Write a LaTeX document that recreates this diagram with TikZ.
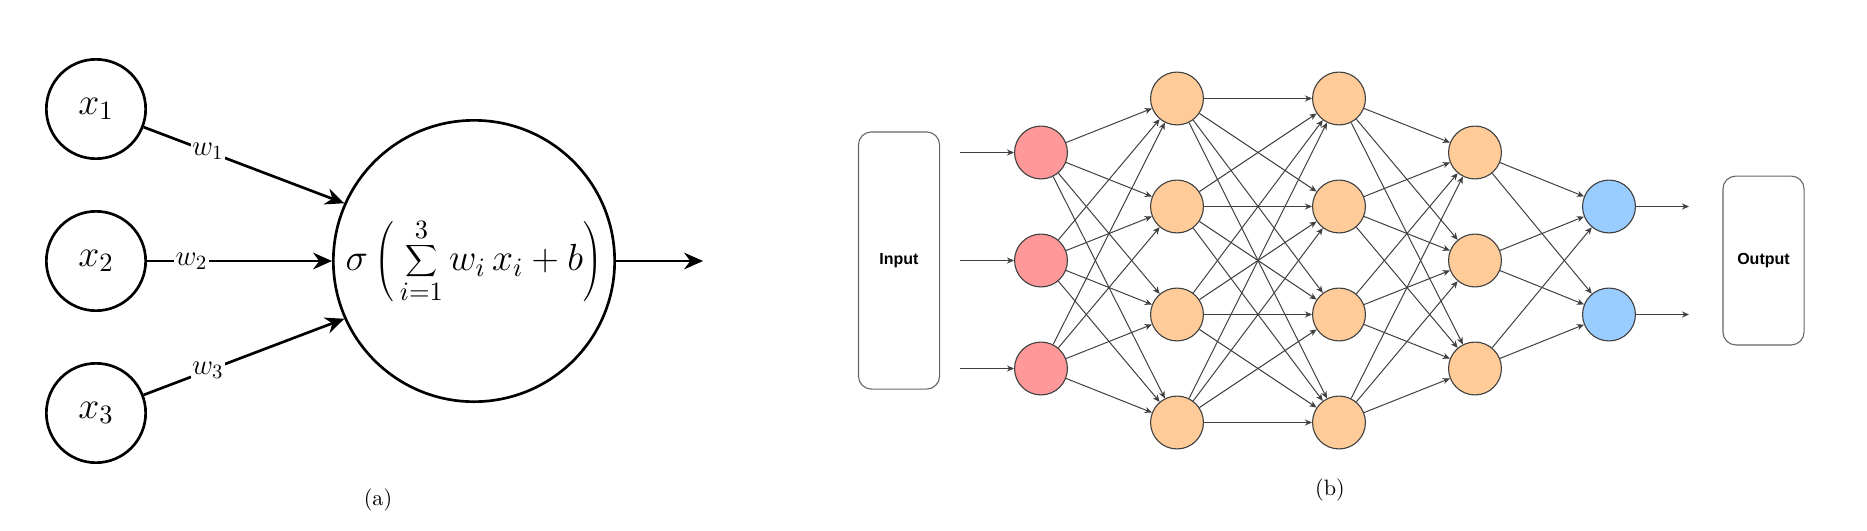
\RequirePackage{fix-cm}
\documentclass[tikz,border=0pt]{standalone}
\usepackage{fontspec}
\newfontfamily\arialfont{Liberation Sans}
\usetikzlibrary{arrows.meta}
\definecolor{nred}{HTML}{FF9999}
\definecolor{norange}{HTML}{FFCC99}
\definecolor{nblue}{HTML}{99CCFF}
\tikzset{
  inpnode/.style={circle, draw, line width=1.2pt, minimum size=44.7pt, inner sep=0pt, font=\fontsize{17}{20}\selectfont},
  bignode/.style={circle, draw, line width=1.2pt, minimum size=126.6pt, inner sep=0pt, font=\fontsize{17}{20}\selectfont},
  warrow/.style={line width=1.2pt, -{Stealth[length=8.5pt,width=7.5pt]}},
  wlab/.style={fill=white, inner sep=0.6pt, font=\fontsize{13}{15}\selectfont},
  nb/.style={circle, draw=black!75, line width=0.5pt, minimum size=23.8pt, inner sep=0pt},
  conn/.style={draw=black!75, line width=0.45pt, -{Stealth[length=3.2pt,width=2.8pt]}},
  iobox/.style={draw=black!60, line width=0.5pt, rounded corners=5.8pt, minimum width=36.5pt, inner sep=0pt, font=\arialfont\bfseries\fontsize{7.2}{9}\selectfont},
  caption/.style={font=\fontsize{10}{12}\selectfont}
}
\begin{document}
\begin{tikzpicture}[x=0.45pt,y=-0.45pt]
\useasboundingbox (0,0) rectangle (1867,530);
% ---------- panel (a) ----------
\node[inpnode] (x1) at (96,109) {$x_1$};
\node[inpnode] (x2) at (96,261) {$x_2$};
\node[inpnode] (x3) at (96,413) {$x_3$};
\node[bignode] (big) at (474,261) {$\displaystyle\sigma\left(\,\sum_{i=1}^{3} w_i\, x_i + b\right)$};
\coordinate (outa) at (703,261);
\draw[warrow] (x1) -- (big.156) node[wlab, pos=0.32] {$w_1$};
\draw[warrow] (x2) -- (big) node[wlab, pos=0.24] {$w_2$};
\draw[warrow] (x3) -- (big.204) node[wlab, pos=0.32] {$w_3$};
\draw[warrow] (big) -- (outa);
\node[caption] (capa) at (378,500) {(a)};
% ---------- panel (b) ----------
\node[iobox, minimum height=115.7pt] (input) at (899,260.5) {Input};
\node[iobox, minimum height=76pt] (output) at (1763.5,260.5) {Output};
\foreach \i/\y in {1/152.5,2/260.5,3/368.5}{
  \node[nb, fill=nred] (r\i) at (1041,\y) {};
  \node[nb, fill=norange] (c\i) at (1475,\y) {};
  \coordinate (in\i) at (960,\y);
}
\foreach \i/\y in {1/98.5,2/206.5,3/314.5,4/422.5}{
  \node[nb, fill=norange] (a\i) at (1177,\y) {};
  \node[nb, fill=norange] (b\i) at (1339,\y) {};
}
\foreach \i/\y in {1/206.5,2/314.5}{
  \node[nb, fill=nblue] (d\i) at (1609,\y) {};
  \coordinate (out\i) at (1689,\y);
}
\foreach \i in {1,2,3}{
  \draw[conn] (in\i) -- (r\i);
  \foreach \j in {1,2,3,4}{ \draw[conn] (r\i) -- (a\j); }
}
\foreach \i in {1,2,3,4}{
  \foreach \j in {1,2,3,4}{ \draw[conn] (a\i) -- (b\j); }
  \foreach \j in {1,2,3}{ \draw[conn] (b\i) -- (c\j); }
}
\foreach \i in {1,2,3}{
  \foreach \j in {1,2}{ \draw[conn] (c\i) -- (d\j); }
}
\foreach \i in {1,2}{ \draw[conn] (d\i) -- (out\i); }
\node[caption] (capb) at (1330,490) {(b)};
\end{tikzpicture}
\end{document}
